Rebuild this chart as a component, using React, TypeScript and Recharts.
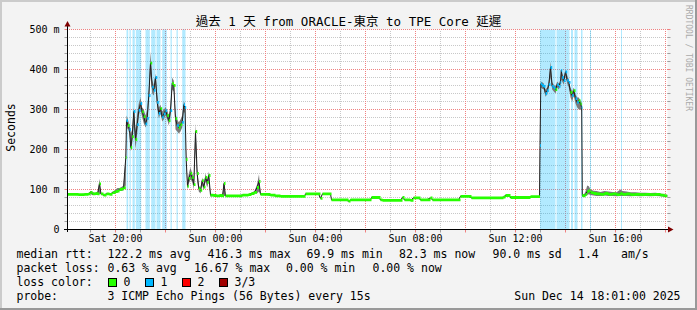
import React from 'react';
import { ComposedChart, Area, Line, XAxis, YAxis, CartesianGrid, ReferenceArea, ReferenceLine } from 'recharts';

// hours since Sat 00:00 (Sun 00:00 = 24)
const hours = [
  18.08, 18.28, 18.52, 18.76, 18.92, 19.0, 19.08, 19.2, 19.28, 19.36, 19.42, 19.52, 19.64, 19.76, 19.88, 20.0, 20.08, 20.16, 20.24, 20.32,
  20.412, 20.44, 20.5, 20.56, 20.612, 20.668, 20.732, 20.8, 20.868, 20.932, 21.0, 21.068, 21.132, 21.2, 21.268, 21.332, 21.4, 21.468, 21.532, 21.6,
  21.668, 21.732, 21.8, 21.868, 21.932, 22.0, 22.068, 22.132, 22.2, 22.268, 22.332, 22.4, 22.468, 22.532, 22.6, 22.668, 22.732, 22.78, 22.828, 22.88,
  22.932, 23.0, 23.068, 23.132, 23.2, 23.268, 23.332, 23.4, 23.468, 23.532, 23.6, 23.668, 23.732, 23.8,
  23.92, 24.04, 24.16, 24.28, 24.34, 24.4, 24.6, 24.84, 25.08, 25.32, 25.44, 25.56, 25.66, 25.74, 25.8, 26.0, 26.2, 26.4, 26.6, 27.0,
  27.4, 27.56, 27.6, 27.88, 28.12, 28.2, 28.28, 28.6, 28.64, 29.0, 29.2, 29.32, 29.4, 29.8, 30.2, 30.24, 30.52, 30.6, 30.68, 31.0,
  31.4, 31.48, 31.56, 31.8, 31.92, 32.12, 32.2, 32.44, 32.6, 32.68, 33.0, 33.4, 33.72, 33.8, 34.12, 34.24, 34.6, 35.0, 35.4, 35.52,
  35.6, 35.72, 35.8, 36.2, 36.6, 36.96,
  36.98, 37.012, 37.068, 37.132, 37.2, 37.268, 37.332, 37.4, 37.468, 37.532, 37.6, 37.668, 37.732, 37.8, 37.832, 37.868, 37.932, 38.0, 38.068, 38.132,
  38.2, 38.268, 38.332, 38.4, 38.468, 38.532, 38.6, 38.648, 38.672, 38.732, 38.8, 38.868, 38.932, 39.0, 39.12, 39.24, 39.4, 39.56, 39.72, 39.88,
  40.04, 40.2, 40.28, 40.44, 40.6, 40.8, 41.0, 41.2, 41.4, 41.6, 41.8, 41.96, 42.08,
];

// median rtt in ms
const median = [
  88, 88, 87, 88, 89, 93, 89, 90, 89, 114, 89, 86, 89, 88, 92, 95, 96, 100, 101, 104,
  180, 272, 260, 250, 205, 232, 295, 225, 262, 298, 315, 294, 282, 264, 278, 335, 416, 356, 348, 380,
  318, 290, 302, 281, 289, 297, 285, 272, 297, 365, 360, 277, 260, 255, 262, 268, 312, 305, 175, 108,
  128, 140, 130, 112, 245, 140, 102, 98, 122, 106, 130, 118, 135, 86,
  85, 84, 85, 84, 115, 84, 84, 84, 86, 87, 90, 93, 105, 120, 88, 88, 86, 84, 83, 83,
  83, 83, 89, 89, 89, 78, 89, 89, 74, 74, 74, 71, 74, 74, 74, 80, 80, 74, 73, 73,
  73, 80, 74, 73, 79, 79, 74, 74, 79, 74, 74, 74, 74, 83, 83, 79, 79, 79, 79, 81,
  85, 85, 80, 80, 82, 82,
  210, 364, 360, 358, 340, 347, 362, 405, 358, 354, 350, 362, 358, 368, 398, 380, 372, 394, 373, 368,
  343, 335, 347, 327, 318, 322, 314, 305, 85, 84, 88, 95, 97, 92, 90, 89, 88, 90, 88, 89,
  87, 90, 88, 89, 87, 88, 87, 88, 87, 88, 86, 84, 84,
];

// smoke: lowest / highest ping in ms
const pingLow = [
  87, 87, 86, 87, 88, 88, 86, 89, 88, 88, 88, 85, 88, 87, 91, 92, 92, 96, 96, 98,
  110, 255, 250, 240, 195, 215, 260, 200, 240, 285, 300, 280, 265, 255, 265, 320, 390, 340, 335, 360,
  305, 278, 290, 270, 275, 285, 275, 260, 280, 350, 345, 250, 245, 240, 245, 255, 295, 290, 160, 100,
  115, 125, 120, 100, 200, 120, 95, 90, 110, 98, 120, 105, 120, 82,
  84, 83, 84, 83, 84, 83, 83, 83, 85, 86, 88, 90, 90, 95, 87, 87, 85, 83, 82, 82,
  82, 82, 88, 88, 88, 76, 88, 88, 73, 73, 73, 70, 73, 73, 73, 79, 79, 73, 72, 72,
  72, 78, 73, 72, 78, 78, 73, 73, 78, 73, 73, 73, 73, 82, 82, 78, 78, 78, 78, 80,
  84, 84, 79, 79, 81, 81,
  140, 355, 352, 350, 332, 338, 355, 380, 350, 345, 340, 355, 350, 360, 375, 370, 362, 385, 365, 355,
  330, 320, 335, 315, 305, 300, 300, 295, 82, 82, 84, 86, 88, 86, 85, 84, 84, 85, 84, 84,
  83, 84, 84, 84, 83, 84, 83, 84, 83, 84, 83, 82, 82,
];
const pingHigh = [
  89, 89, 88, 89, 90, 96, 94, 91, 90, 127, 90, 87, 90, 89, 93, 100, 104, 104, 106, 110,
  190, 285, 275, 262, 240, 250, 305, 245, 290, 315, 330, 305, 300, 285, 300, 350, 445, 375, 360, 390,
  340, 305, 312, 295, 300, 305, 298, 285, 310, 380, 372, 290, 275, 268, 275, 285, 320, 315, 185, 120,
  140, 155, 140, 130, 265, 150, 110, 104, 130, 112, 140, 125, 145, 90,
  86, 85, 86, 85, 122, 85, 85, 85, 87, 88, 92, 96, 112, 138, 89, 89, 87, 85, 84, 84,
  84, 84, 90, 90, 90, 80, 90, 90, 75, 75, 75, 72, 75, 75, 75, 81, 81, 75, 74, 74,
  74, 81, 75, 74, 80, 80, 75, 75, 80, 75, 75, 75, 75, 84, 84, 80, 80, 80, 80, 82,
  87, 87, 81, 81, 84, 84,
  230, 370, 368, 365, 350, 355, 370, 420, 368, 362, 358, 370, 365, 375, 402, 390, 380, 400, 385, 375,
  355, 345, 355, 338, 330, 330, 322, 315, 90, 87, 95, 110, 108, 100, 97, 96, 94, 96, 95, 94,
  93, 100, 96, 95, 93, 93, 92, 92, 91, 92, 90, 88, 86,
];

// lost pings out of 3
const lossCount = [
  0, 0, 0, 0, 0, 0, 0, 0, 0, 0, 0, 0, 0, 0, 0, 0, 0, 0, 0, 0,
  0, 1, 0, 1, 0, 0, 1, 0, 1, 1, 1, 0, 0, 1, 1, 1, 0, 1, 1, 1,
  1, 1, 0, 1, 1, 1, 0, 0, 1, 0, 0, 0, 1, 0, 0, 1, 1, 1, 0, 0,
  0, 0, 0, 0, 0, 0, 0, 0, 0, 0, 0, 0, 0, 0,
  0, 0, 0, 0, 0, 0, 0, 0, 0, 0, 0, 0, 0, 0, 0, 0, 0, 0, 0, 0,
  0, 0, 0, 0, 0, 0, 0, 0, 0, 0, 0, 0, 0, 0, 0, 0, 0, 0, 0, 0,
  0, 0, 0, 0, 0, 0, 0, 0, 0, 0, 0, 0, 0, 0, 0, 0, 0, 0, 0, 0,
  0, 0, 0, 0, 0, 0,
  1, 1, 1, 1, 1, 1, 1, 1, 1, 1, 0, 1, 1, 1, 1, 1, 1, 1, 1, 1,
  0, 1, 0, 1, 1, 0, 0, 1, 0, 0, 0, 0, 0, 0, 0, 0, 0, 0, 0, 0,
  0, 0, 0, 0, 0, 0, 0, 0, 0, 0, 0, 0, 0,
];

// loss background periods (hours)
const lossStart = [20.44, 20.56, 20.68, 20.812, 21.2, 21.428, 21.64, 21.868, 22.2, 22.44, 22.668, 36.98, 37.64, 38.22, 38.36, 38.62, 38.98, 40.22];
const lossEnd = [20.508, 20.612, 20.772, 21.028, 21.372, 21.6, 21.8, 22.052, 22.252, 22.492, 22.8, 37.6, 38.16, 38.3, 38.48, 38.68, 39.02, 40.26];

const yTickValues = [0, 20, 40, 60, 80, 100, 120, 140, 160, 180, 200, 220, 240, 260, 280, 300, 320, 340, 360, 380, 400, 420, 440, 460, 480, 500];
const yLabelValues = [0, 100, 200, 300, 400, 500];
const yLabels = ['0', '100 m', '200 m', '300 m', '400 m', '500 m'];
const yMinorGrid = [20, 40, 60, 80, 120, 140, 160, 180, 220, 240, 260, 280, 320, 340, 360, 380, 420, 440, 460, 480];
const yMajorGrid = [100, 200, 300, 400, 500];

const xTickValues = [19, 20, 21, 22, 23, 24, 25, 26, 27, 28, 29, 30, 31, 32, 33, 34, 35, 36, 37, 38, 39, 40, 41, 42];
const xMinorGrid = [19, 21, 23, 25, 27, 29, 31, 33, 35, 37, 39, 41];
const xMajorGrid = [20, 22, 24, 26, 28, 30, 32, 34, 36, 38, 40, 42];
const xLabelValues = [20, 24, 28, 32, 36, 40];
const xLabels = ['Sat 20:00', 'Sun 00:00', 'Sun 04:00', 'Sun 08:00', 'Sun 12:00', 'Sun 16:00'];

const title = '過去 1 天 from ORACLE-東京 to TPE Core 延遲';
const rttStats = ['122.2 ms avg', '416.3 ms max', '69.9 ms min', '82.3 ms now', '90.0 ms sd', '1.4', 'am/s'];
const lossStats = ['0.63 % avg', '16.67 % max', '0.00 % min', '0.00 % now'];
const lossLegend = ['0', '1', '2', '3/3'];
const lossColors = ['#26ff00', '#00b8ff', '#ff0000', '#a00000'];
const probeText = '3 ICMP Echo Pings (56 Bytes) every 15s';
const stampText = 'Sun Dec 14 18:01:00 2025';

const BAND = 3.5;
const FONT = '"DejaVu Sans Mono", "Noto Sans CJK TC", monospace';
const MINOR = '#c8c8c8';
const MAJOR = '#f08080';

const chartData = hours.map((t, i) => ({
  t,
  median: median[i],
  smoke: [pingLow[i], pingHigh[i]],
}));

// stepped band around the median for samples with a given loss count
function lossBand(level: number) {
  const out: { t: number; v: number[] | null }[] = [];
  for (let i = 0; i < hours.length - 1; i++) {
    if (lossCount[i] !== level) continue;
    const band = [median[i] - BAND, median[i] + BAND];
    const prevSame = i > 0 && lossCount[i - 1] === level;
    if (!prevSame && out.length) out.push({ t: hours[i], v: null });
    out.push({ t: hours[i], v: band }, { t: hours[i + 1], v: band });
  }
  return out;
}
const band0 = lossBand(0);
const band1 = lossBand(1);

const renderYTick = (props: any) => {
  const { x, y, payload } = props;
  const v = payload.value;
  const idx = yLabelValues.indexOf(v);
  const tickColor = idx >= 0 ? MAJOR : '#a0a0a0';
  return (
    <g>
      <line x1={x - 3} x2={x} y1={y} y2={y} stroke={tickColor} />
      <line x1={x + 600} x2={x + 603} y1={y} y2={y} stroke={tickColor} />
      {idx >= 0 && (
        <text x={x - 8} y={y + 3.5} textAnchor="end" fontSize={10} fontFamily={FONT} fill="#000">
          {yLabels[idx]}
        </text>
      )}
    </g>
  );
};

const renderXTick = (props: any) => {
  const { x, y, payload } = props;
  const h = payload.value;
  const idx = xLabelValues.indexOf(h);
  const tickColor = h % 2 === 0 ? MAJOR : '#a0a0a0';
  return (
    <g>
      <line x1={x} x2={x} y1={y} y2={y + 3} stroke={tickColor} />
      {idx >= 0 && (
        <text x={x} y={y + 12} textAnchor="middle" fontSize={10} fontFamily={FONT} fill="#000">
          {xLabels[idx]}
        </text>
      )}
    </g>
  );
};

const txt = (x: number, y: number, s: string, anchor: any = 'start') => (
  <text key={`${x}-${y}-${s}`} x={x} y={y} textAnchor={anchor} fontSize={11.5} fontFamily={FONT} fill="#000">
    {s}
  </text>
);

export default function App() {
  const rttX = [107.5, 207.5, 306.5, 399, 492.5, 578, 621];
  const lossX = [107.5, 194, 286, 372.5];
  const boxX = [108.5, 145.5, 182.5, 219.5];
  const dots = { strokeDasharray: '1 1', strokeDashoffset: 0.5, shapeRendering: 'crispEdges' as const };
  return (
    <div style={{ position: 'absolute', left: 0, top: 0, width: 697, height: 310, background: '#f3f3f3', overflow: 'hidden' }}>
      <div style={{ position: 'absolute', left: 0, top: 0 }}>
        <ComposedChart width={697} height={310} data={chartData} margin={{ top: 29.5, right: 29.5, bottom: 60.5, left: 0 }}>
          <CartesianGrid horizontal={false} vertical={false} fill="#ffffff" fillOpacity={1} />
          <XAxis
            dataKey="t"
            type="number"
            domain={[18.08, 42.08]}
            allowDataOverflow
            ticks={xTickValues}
            interval={0}
            height={20}
            tick={renderXTick}
            tickLine={false}
            axisLine={false}
            tickSize={0}
            tickMargin={0}
          />
          <YAxis
            type="number"
            domain={[0, 500]}
            allowDataOverflow
            ticks={yTickValues}
            interval={0}
            width={67.5}
            tick={renderYTick}
            tickLine={false}
            axisLine={false}
            tickSize={0}
            tickMargin={0}
          />
          {yMinorGrid.map((v) => (
            <ReferenceLine key={`ym-${v}`} y={v} stroke={MINOR} {...dots} zIndex={-60} />
          ))}
          {xMinorGrid.map((v) => (
            <ReferenceLine key={`xm-${v}`} x={v} stroke={MINOR} {...dots} zIndex={-60} />
          ))}
          {yMajorGrid.map((v) => (
            <ReferenceLine key={`yM-${v}`} y={v} stroke={MAJOR} {...dots} zIndex={-55} />
          ))}
          {xMajorGrid.map((v) => (
            <ReferenceLine key={`xM-${v}`} x={v} stroke={MAJOR} {...dots} zIndex={-55} />
          ))}
          {lossStart.map((s, i) => (
            <ReferenceArea
              key={`loss-${i}`}
              x1={s}
              x2={lossEnd[i]}
              y1={0}
              y2={500}
              fill="#00b8ff"
              fillOpacity={0.3}
              stroke="none"
              zIndex={-50}
            />
          ))}
          <Area
            dataKey="smoke"
            type="linear"
            stroke="none"
            fill="#7a7a7a"
            fillOpacity={1}
            dot={false}
            activeDot={false}
            isAnimationActive={false}
            zIndex={100}
          />
          <Line
            dataKey="median"
            type="linear"
            stroke="#202020"
            strokeWidth={1}
            dot={false}
            activeDot={false}
            isAnimationActive={false}
            zIndex={110}
          />
          <Area
            data={band0}
            dataKey="v"
            type="linear"
            stroke="none"
            fill={lossColors[0]}
            fillOpacity={1}
            dot={false}
            activeDot={false}
            isAnimationActive={false}
            zIndex={120}
          />
          <Area
            data={band1}
            dataKey="v"
            type="linear"
            stroke="none"
            fill={lossColors[1]}
            fillOpacity={1}
            dot={false}
            activeDot={false}
            isAnimationActive={false}
            zIndex={120}
          />
        </ComposedChart>
      </div>
      <svg width={697} height={310} style={{ position: 'absolute', left: 0, top: 0, pointerEvents: 'none' }}>
        {/* frame */}
        <rect x={0} y={0} width={697} height={2} fill="#cbcbcb" />
        <rect x={0} y={0} width={2} height={310} fill="#cbcbcb" />
        <rect x={0} y={308} width={697} height={2} fill="#999999" />
        <rect x={695} y={0} width={2} height={310} fill="#999999" />
        {/* axes */}
        <line x1={67.5} x2={67.5} y1={232} y2={25} stroke="#000" />
        <polygon points="64.5,26.5 70.5,26.5 67.5,21" fill="#7f0000" />
        <line x1={64} x2={669} y1={229.5} y2={229.5} stroke="#000" />
        <polygon points="668,226.5 668,232.5 673.5,229.5" fill="#7f0000" />
        {/* texts */}
        <text x={348.5} y={26} textAnchor="middle" fontSize={12.5} fontFamily={FONT} fill="#000">
          {title}
        </text>
        <text transform="translate(14.5,127.5) rotate(-90)" textAnchor="middle" fontSize={11.5} fontFamily={FONT} fill="#000">
          Seconds
        </text>
        <text transform="translate(686,5) rotate(90)" fontSize={8} fontFamily={FONT} fill="#aaaaaa">
          RRDTOOL / TOBI OETIKER
        </text>
        {txt(16.5, 258, 'median rtt:')}
        {rttStats.map((s, i) => txt(rttX[i], 258, s))}
        {txt(16.5, 272, 'packet loss:')}
        {lossStats.map((s, i) => txt(lossX[i], 272, s))}
        {txt(16.5, 286, 'loss color:')}
        {lossLegend.map((s, i) => (
          <g key={`lc-${i}`}>
            <rect x={boxX[i]} y={278.5} width={8} height={8} fill={lossColors[i]} stroke="#000" />
            {txt(boxX[i] + 15, 286, s)}
          </g>
        ))}
        {txt(16.5, 300, 'probe:')}
        {txt(107.5, 300, probeText)}
        {txt(680.5, 300, stampText, 'end')}
      </svg>
    </div>
  );
}
